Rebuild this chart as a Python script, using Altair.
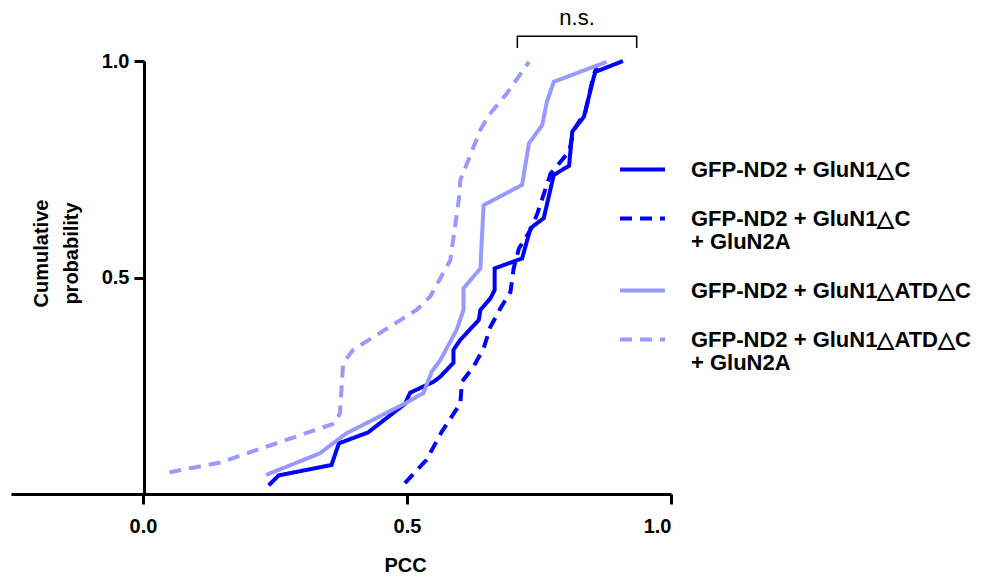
import altair as alt
import pandas as pd

# ---- data ----
s1_name = "GFP-ND2 + GluN1△C"
s1_x = [0.238, 0.257, 0.357, 0.371, 0.426, 0.496, 0.506, 0.550, 0.563, 0.588, 0.588, 0.601, 0.636, 0.639,
        0.658, 0.666, 0.666, 0.718, 0.734, 0.759, 0.778, 0.807, 0.813, 0.835, 0.854, 0.857, 0.909]
s1_y = [0.020, 0.043, 0.067, 0.117, 0.142, 0.208, 0.234, 0.259, 0.271, 0.303, 0.333, 0.356, 0.402, 0.425,
        0.452, 0.471, 0.521, 0.544, 0.614, 0.637, 0.737, 0.758, 0.837, 0.871, 0.964, 0.975, 1.000]

s2_name = "GFP-ND2 + GluN1△C|+ GluN2A"
s2_x = [0.496, 0.537, 0.566, 0.601, 0.604, 0.626, 0.645, 0.658, 0.677, 0.696, 0.702, 0.712, 0.734,
        0.747, 0.772, 0.807, 0.816, 0.838, 0.854, 0.860]
s2_y = [0.025, 0.079, 0.144, 0.209, 0.259, 0.294, 0.336, 0.386, 0.429, 0.467, 0.521, 0.567, 0.610,
        0.648, 0.740, 0.791, 0.841, 0.883, 0.971, 0.985]

s3_name = "GFP-ND2 + GluN1△ATD△C"
s3_x = [0.233, 0.335, 0.385, 0.496, 0.531, 0.547, 0.563, 0.594, 0.607, 0.607, 0.639, 0.645, 0.718,
        0.731, 0.756, 0.765, 0.778, 0.878]
s3_y = [0.044, 0.094, 0.140, 0.209, 0.233, 0.283, 0.309, 0.379, 0.425, 0.475, 0.521, 0.667, 0.714,
        0.810, 0.852, 0.906, 0.952, 0.998]

s4_name = "GFP-ND2 + GluN1△ATD△C|+ GluN2A"
s4_x = [0.050, 0.144, 0.363, 0.373, 0.379, 0.398, 0.518, 0.544, 0.582, 0.598, 0.601, 0.639, 0.655,
        0.689, 0.731]
s4_y = [0.050, 0.072, 0.163, 0.186, 0.302, 0.333, 0.425, 0.456, 0.540, 0.679, 0.725, 0.841, 0.875,
        0.925, 0.998]

series_names = [s1_name, s2_name, s3_name, s4_name]
series_colors = ["#0000FF", "#0000FF", "#9999FF", "#9999FF"]
series_dash = [[1, 0], [12, 8], [1, 0], [12, 8]]

x_ticks = [0.0, 0.5, 1.0]
y_ticks = [0.5, 1.0]

bracket_x = [0.709, 0.709, 0.935, 0.935]
bracket_y = [1.030, 1.057, 1.057, 1.030]
ns_label = "n.s."
ns_x = [0.822]
ns_y = [1.083]

# ---- build tables ----
rows = []
for name, xs, ys in [(s1_name, s1_x, s1_y), (s2_name, s2_x, s2_y),
                     (s3_name, s3_x, s3_y), (s4_name, s4_x, s4_y)]:
    for i, (xv, yv) in enumerate(zip(xs, ys)):
        rows.append({"series": name, "pcc": xv, "cum": yv, "idx": i})
df = pd.DataFrame(rows)

df_br = pd.DataFrame({"x": bracket_x, "y": bracket_y, "i": list(range(len(bracket_x)))})
df_ns = pd.DataFrame({"x": ns_x, "y": ns_y, "t": [ns_label]})

FONT = "Liberation Sans"

xscale = alt.Scale(domain=[-0.25, 1.0], nice=False, zero=False)
yscale = alt.Scale(domain=[0.0, 1.0], nice=False, zero=False)

legend_kw = dict(title=None, orient="none", legendX=607, legendY=84,
                 symbolType="stroke", symbolSize=2025, symbolStrokeWidth=4,
                 labelFont=FONT, labelFontWeight="bold", labelFontSize=22,
                 labelColor="black", labelOffset=24, labelLimit=400, rowPadding=13,
                 labelExpr="split(datum.label, '|')")

lines = alt.Chart(df).mark_line(strokeWidth=4, clip=False).encode(
    x=alt.X("pcc:Q", scale=xscale,
            axis=alt.Axis(values=x_ticks, format=".1f", title="PCC", grid=False,
                          domainColor="black", domainWidth=3, tickColor="black", tickWidth=3,
                          tickSize=10, labelFont=FONT, labelFontWeight="bold", labelFontSize=20,
                          labelColor="black", labelPadding=12, titleFont=FONT, titleFontWeight="bold",
                          titleFontSize=20, titleColor="black", titleX=394, titleY=71,
                          titleBaseline="middle", titleAnchor="start", titleAlign="center")),
    y=alt.Y("cum:Q", scale=yscale,
            axis=alt.Axis(values=y_ticks, format=".1f", title=["Cumulative", "probability"], grid=False,
                          offset=-133, domainColor="black", domainWidth=3, tickColor="black",
                          tickWidth=3, tickSize=10, labelFont=FONT, labelFontWeight="bold",
                          labelFontSize=20, labelColor="black", labelPadding=5, titleFont=FONT,
                          titleFontWeight="bold", titleFontSize=20, titleColor="black",
                          titleAngle=-90, titleX=-103, titleY=192, titleBaseline="middle",
                          titleAlign="center", titleLineHeight=30, titleAnchor="start")),
    color=alt.Color("series:N", scale=alt.Scale(domain=series_names, range=series_colors),
                    legend=alt.Legend(**legend_kw)),
    strokeDash=alt.StrokeDash("series:N", scale=alt.Scale(domain=series_names, range=series_dash),
                              legend=alt.Legend(**legend_kw)),
    order="idx:Q",
)

bracket = alt.Chart(df_br).mark_line(color="black", strokeWidth=1.5, clip=False).encode(
    x=alt.X("x:Q", scale=xscale), y=alt.Y("y:Q", scale=yscale), order="i:Q")

ns = alt.Chart(df_ns).mark_text(font=FONT, fontSize=22, color="black", baseline="alphabetic",
                                 align="center").encode(
    x=alt.X("x:Q", scale=xscale), y=alt.Y("y:Q", scale=yscale), text="t:N")

chart = alt.layer(lines, bracket, ns).properties(
    width=660, height=433,
    autosize=alt.AutoSizeParams(type="none"),
    padding={"left": 3, "top": 53, "right": 310, "bottom": 85},
).configure(
    background="white",
    style={"guide-label": {"lineHeight": 23}},
).configure_view(stroke=None)

chart.save("out.html", embed_options={"renderer": "svg", "actions": False})
